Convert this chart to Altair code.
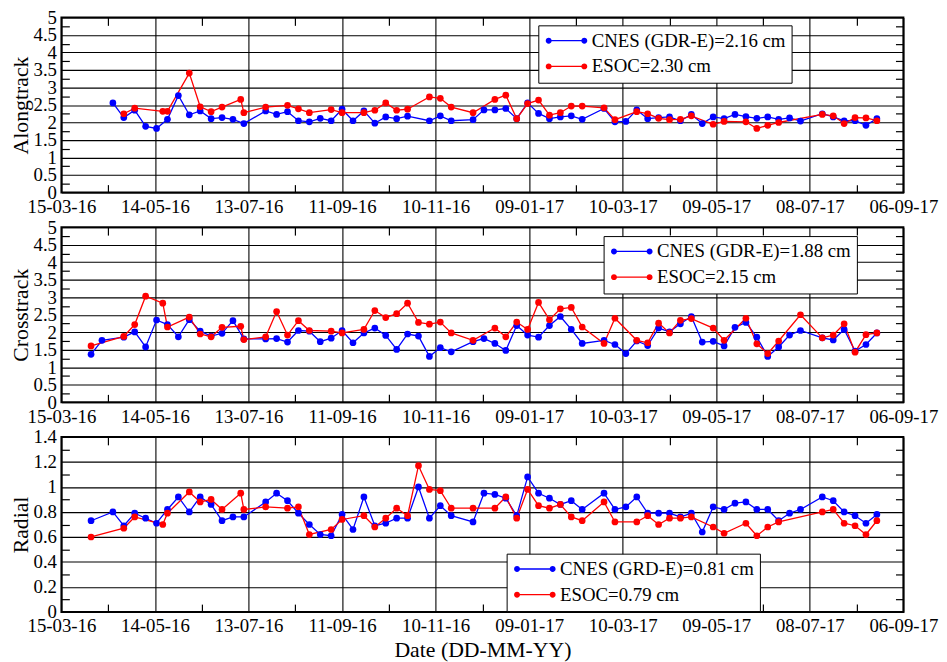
import altair as alt
import pandas as pd

FONT = "Liberation Serif"
BLUE = "#0000ff"
RED = "#ff0000"

# ---------------- axis ticks ----------------
x_major = ["2016-03-15", "2016-05-14", "2016-07-13", "2016-09-11", "2016-11-10",
           "2017-01-09", "2017-03-10", "2017-05-09", "2017-07-08", "2017-09-06"]
x_minor = ["2016-04-14", "2016-06-13", "2016-08-12", "2016-10-11", "2016-12-10",
           "2017-02-08", "2017-04-09", "2017-06-08", "2017-08-07"]
y_major_ac = [0, 0.5, 1, 1.5, 2, 2.5, 3, 3.5, 4, 4.5, 5]
y_minor_ac = [0.25, 0.75, 1.25, 1.75, 2.25, 2.75, 3.25, 3.75, 4.25, 4.75]
y_major_r = [0, 0.2, 0.4, 0.6, 0.8, 1.0, 1.2, 1.4]
y_minor_r = [0.1, 0.3, 0.5, 0.7, 0.9, 1.1, 1.3]

# ---------------- Alongtrack ----------------
along_cnes_label = "CNES (GDR-E)=2.16 cm"
along_esoc_label = "ESOC=2.30 cm"
along_cnes_dates = ["2016-04-17", "2016-04-24", "2016-05-01", "2016-05-08", "2016-05-15", "2016-05-22",
                    "2016-05-29", "2016-06-05", "2016-06-12", "2016-06-19", "2016-06-26", "2016-07-03",
                    "2016-07-10", "2016-07-24", "2016-07-31", "2016-08-07", "2016-08-14", "2016-08-21",
                    "2016-08-28", "2016-09-04", "2016-09-11", "2016-09-18", "2016-09-25", "2016-10-02",
                    "2016-10-09", "2016-10-16", "2016-10-23", "2016-11-06", "2016-11-13", "2016-11-20",
                    "2016-12-04", "2016-12-11", "2016-12-18", "2016-12-25", "2017-01-01", "2017-01-08",
                    "2017-01-15", "2017-01-22", "2017-01-29", "2017-02-05", "2017-02-12", "2017-02-26",
                    "2017-03-05", "2017-03-12", "2017-03-19", "2017-03-26", "2017-04-02", "2017-04-09",
                    "2017-04-16", "2017-04-23", "2017-04-30", "2017-05-07", "2017-05-14", "2017-05-21",
                    "2017-05-28", "2017-06-04", "2017-06-11", "2017-06-18", "2017-06-25", "2017-07-02",
                    "2017-07-16", "2017-07-23", "2017-07-30", "2017-08-06", "2017-08-13", "2017-08-20"]
along_cnes = [2.56, 2.14, 2.35, 1.89, 1.83, 2.09, 2.77, 2.22, 2.33, 2.11, 2.14, 2.09, 1.97,
              2.33, 2.23, 2.31, 2.05, 2.02, 2.12, 2.05, 2.38, 2.05, 2.33, 1.98, 2.16, 2.11, 2.18,
              2.05, 2.19, 2.05, 2.08, 2.36, 2.36, 2.40, 2.11, 2.56, 2.26, 2.11, 2.16, 2.19, 2.09,
              2.40, 2.02, 2.03, 2.36, 2.11, 2.14, 2.16, 2.05, 2.23, 1.97, 2.16, 2.11, 2.23, 2.17,
              2.12, 2.16, 2.09, 2.13, 2.04, 2.25, 2.16, 2.05, 2.05, 1.92, 2.11]
along_esoc_dates = ["2016-04-24", "2016-05-01", "2016-05-19", "2016-05-22", "2016-06-05", "2016-06-12",
                    "2016-06-19", "2016-06-26", "2016-07-08", "2016-07-10", "2016-07-24", "2016-08-07",
                    "2016-08-14", "2016-08-21", "2016-09-04", "2016-09-11", "2016-09-25", "2016-10-02",
                    "2016-10-09", "2016-10-16", "2016-10-23", "2016-11-06", "2016-11-13", "2016-11-20",
                    "2016-12-04", "2016-12-18", "2016-12-25", "2017-01-01", "2017-01-08", "2017-01-15",
                    "2017-01-22", "2017-01-29", "2017-02-05", "2017-02-12", "2017-02-26", "2017-03-05",
                    "2017-03-19", "2017-03-26", "2017-04-02", "2017-04-09", "2017-04-16", "2017-04-23",
                    "2017-05-07", "2017-05-14", "2017-05-28", "2017-06-04", "2017-06-11", "2017-06-18",
                    "2017-07-16", "2017-07-23", "2017-07-30", "2017-08-06", "2017-08-13", "2017-08-20"]
along_esoc = [2.25, 2.41, 2.32, 2.32, 3.41, 2.45, 2.31, 2.44, 2.66, 2.28, 2.44, 2.49, 2.39, 2.28,
              2.37, 2.28, 2.28, 2.35, 2.56, 2.35, 2.38, 2.73, 2.69, 2.44, 2.28, 2.66, 2.78, 2.11,
              2.54, 2.64, 2.21, 2.28, 2.47, 2.47, 2.42, 2.08, 2.31, 2.25, 2.12, 2.08, 2.09, 2.19,
              1.95, 2.03, 2.02, 1.83, 1.92, 2.00, 2.23, 2.19, 1.97, 2.14, 2.13, 2.05]

# ---------------- Crosstrack ----------------
cross_cnes_label = "CNES (GDR-E)=1.88 cm"
cross_esoc_label = "ESOC=2.15 cm"
cross_cnes_dates = ["2016-04-03", "2016-04-10", "2016-04-24", "2016-05-01", "2016-05-08", "2016-05-15",
                    "2016-05-22", "2016-05-29", "2016-06-05", "2016-06-12", "2016-06-19", "2016-06-26",
                    "2016-07-03", "2016-07-10", "2016-07-24", "2016-07-31", "2016-08-07", "2016-08-14",
                    "2016-08-21", "2016-08-28", "2016-09-04", "2016-09-11", "2016-09-18", "2016-09-25",
                    "2016-10-02", "2016-10-09", "2016-10-16", "2016-10-23", "2016-10-30", "2016-11-06",
                    "2016-11-13", "2016-11-20", "2016-12-04", "2016-12-11", "2016-12-18", "2016-12-25",
                    "2017-01-01", "2017-01-08", "2017-01-15", "2017-01-22", "2017-01-29", "2017-02-05",
                    "2017-02-12", "2017-02-26", "2017-03-05", "2017-03-12", "2017-03-19", "2017-03-26",
                    "2017-04-02", "2017-04-09", "2017-04-16", "2017-04-23", "2017-04-30", "2017-05-07",
                    "2017-05-14", "2017-05-21", "2017-05-28", "2017-06-04", "2017-06-11", "2017-06-18",
                    "2017-06-25", "2017-07-02", "2017-07-16", "2017-07-23", "2017-07-30", "2017-08-06",
                    "2017-08-13", "2017-08-20"]
cross_cnes = [1.37, 1.77, 1.86, 2.01, 1.58, 2.35, 2.22, 1.87, 2.36, 2.03, 1.89, 1.97, 2.33, 1.81,
              1.81, 1.82, 1.72, 2.05, 2.03, 1.73, 1.83, 2.05, 1.70, 1.98, 2.12, 1.91, 1.51, 1.95,
              1.89, 1.31, 1.56, 1.44, 1.73, 1.82, 1.68, 1.48, 2.19, 1.92, 1.86, 2.19, 2.45, 2.08,
              1.68, 1.77, 1.65, 1.39, 1.75, 1.62, 2.12, 2.01, 2.24, 2.45, 1.72, 1.74, 1.61, 2.14,
              2.28, 1.86, 1.31, 1.58, 1.92, 2.05, 1.84, 1.78, 2.08, 1.46, 1.65, 1.98]
cross_esoc_dates = ["2016-04-03", "2016-04-24", "2016-05-01", "2016-05-08", "2016-05-19", "2016-05-22",
                    "2016-06-05", "2016-06-12", "2016-06-19", "2016-06-26", "2016-07-08", "2016-07-10",
                    "2016-07-24", "2016-07-31", "2016-08-07", "2016-08-14", "2016-08-21", "2016-09-04",
                    "2016-09-11", "2016-09-25", "2016-10-02", "2016-10-09", "2016-10-16", "2016-10-23",
                    "2016-10-30", "2016-11-06", "2016-11-13", "2016-11-20", "2016-12-04", "2016-12-18",
                    "2016-12-25", "2017-01-01", "2017-01-08", "2017-01-15", "2017-01-22", "2017-01-29",
                    "2017-02-05", "2017-02-12", "2017-02-26", "2017-03-05", "2017-03-19", "2017-03-26",
                    "2017-04-02", "2017-04-09", "2017-04-16", "2017-04-23", "2017-05-07", "2017-05-14",
                    "2017-05-28", "2017-06-04", "2017-06-11", "2017-06-18", "2017-07-02", "2017-07-16",
                    "2017-07-23", "2017-07-30", "2017-08-06", "2017-08-13", "2017-08-20"]
cross_esoc = [1.61, 1.88, 2.22, 3.03, 2.83, 2.15, 2.43, 1.95, 1.87, 2.14, 2.17, 1.79, 1.87, 2.59,
              1.92, 2.33, 2.05, 2.03, 1.98, 2.08, 2.62, 2.42, 2.53, 2.83, 2.28, 2.23, 2.29, 1.98,
              1.77, 2.12, 1.87, 2.29, 2.08, 2.85, 2.36, 2.67, 2.71, 2.15, 1.68, 2.40, 1.77, 1.70,
              2.26, 1.98, 2.34, 2.39, 2.12, 1.77, 2.40, 1.67, 1.39, 1.75, 2.50, 1.84, 1.92, 2.24,
              1.43, 1.93, 1.98]

# ---------------- Radial ----------------
rad_cnes_label = "CNES (GRD-E)=0.81 cm"
rad_esoc_label = "ESOC=0.79 cm"
rad_cnes_dates = ["2016-04-03", "2016-04-17", "2016-04-24", "2016-05-01", "2016-05-08", "2016-05-15",
                  "2016-05-22", "2016-05-29", "2016-06-05", "2016-06-12", "2016-06-19", "2016-06-26",
                  "2016-07-03", "2016-07-10", "2016-07-24", "2016-07-31", "2016-08-07", "2016-08-14",
                  "2016-08-21", "2016-08-28", "2016-09-04", "2016-09-11", "2016-09-18", "2016-09-25",
                  "2016-10-02", "2016-10-09", "2016-10-16", "2016-10-23", "2016-10-30", "2016-11-06",
                  "2016-11-13", "2016-11-20", "2016-12-04", "2016-12-11", "2016-12-18", "2016-12-25",
                  "2017-01-01", "2017-01-08", "2017-01-15", "2017-01-22", "2017-01-29", "2017-02-05",
                  "2017-02-12", "2017-02-26", "2017-03-05", "2017-03-12", "2017-03-19", "2017-03-26",
                  "2017-04-02", "2017-04-09", "2017-04-16", "2017-04-23", "2017-04-30", "2017-05-07",
                  "2017-05-14", "2017-05-21", "2017-05-28", "2017-06-04", "2017-06-11", "2017-06-18",
                  "2017-06-25", "2017-07-02", "2017-07-16", "2017-07-23", "2017-07-30", "2017-08-06",
                  "2017-08-13", "2017-08-20"]
rad_cnes = [0.73, 0.80, 0.69, 0.79, 0.75, 0.71, 0.82, 0.92, 0.80, 0.92, 0.86, 0.73, 0.76, 0.76,
            0.88, 0.95, 0.89, 0.79, 0.70, 0.62, 0.61, 0.78, 0.66, 0.92, 0.69, 0.71, 0.75, 0.75,
            1.00, 0.75, 0.85, 0.77, 0.72, 0.95, 0.94, 0.91, 0.77, 1.08, 0.95, 0.91, 0.86, 0.89,
            0.82, 0.95, 0.82, 0.84, 0.92, 0.79, 0.79, 0.79, 0.76, 0.79, 0.64, 0.84, 0.82, 0.87,
            0.88, 0.82, 0.82, 0.73, 0.79, 0.82, 0.92, 0.89, 0.80, 0.77, 0.71, 0.78]
rad_esoc_dates = ["2016-04-03", "2016-04-24", "2016-05-01", "2016-05-19", "2016-05-22", "2016-06-05",
                  "2016-06-12", "2016-06-19", "2016-06-26", "2016-07-08", "2016-07-10", "2016-07-24",
                  "2016-08-07", "2016-08-14", "2016-08-21", "2016-09-04", "2016-09-11", "2016-09-25",
                  "2016-10-02", "2016-10-09", "2016-10-16", "2016-10-23", "2016-10-30", "2016-11-06",
                  "2016-11-13", "2016-11-20", "2016-12-04", "2016-12-18", "2016-12-25", "2017-01-01",
                  "2017-01-08", "2017-01-15", "2017-01-22", "2017-01-29", "2017-02-05", "2017-02-12",
                  "2017-02-26", "2017-03-05", "2017-03-19", "2017-03-26", "2017-04-02", "2017-04-09",
                  "2017-04-16", "2017-04-23", "2017-05-07", "2017-05-14", "2017-05-28", "2017-06-04",
                  "2017-06-11", "2017-06-18", "2017-07-16", "2017-07-23", "2017-07-30", "2017-08-06",
                  "2017-08-13", "2017-08-20"]
rad_esoc = [0.60, 0.67, 0.76, 0.70, 0.79, 0.96, 0.88, 0.90, 0.82, 0.95, 0.82, 0.84, 0.83, 0.84,
            0.62, 0.66, 0.74, 0.77, 0.68, 0.75, 0.83, 0.77, 1.17, 0.98, 0.97, 0.83, 0.83, 0.83,
            0.92, 0.75, 0.98, 0.85, 0.83, 0.86, 0.76, 0.73, 0.88, 0.72, 0.72, 0.77, 0.70, 0.75,
            0.75, 0.76, 0.68, 0.63, 0.71, 0.61, 0.68, 0.72, 0.80, 0.82, 0.71, 0.69, 0.62, 0.73]

# legend symbol: dot - line - dot (filled path; symbol size 256 -> 8 px per path unit)
LEGEND_SYMBOL = ("M-2.625,0A0.375,0.375,0,1,1,-1.875,0A0.375,0.375,0,1,1,-2.625,0Z "
                 "M1.875,0A0.375,0.375,0,1,1,2.625,0A0.375,0.375,0,1,1,1.875,0Z "
                 "M-2.25,-0.08L2.25,-0.08L2.25,0.08L-2.25,0.08Z")

W, H = 851, 177
TICK = 8
TXT = dict(labelFont=FONT, labelFontSize=19, labelColor="black",
           titleFont=FONT, titleFontSize=22, titleFontWeight="normal", titleColor="black")


def dt(s):
    y, m, d = (int(p) for p in s.split("-"))
    return alt.DateTime(year=y, month=m, date=d, utc=True)


def frame(dates_a, vals_a, lab_a, dates_b, vals_b, lab_b):
    a = pd.DataFrame({"date": dates_a, "value": vals_a, "series": lab_a})
    b = pd.DataFrame({"date": dates_b, "value": vals_b, "series": lab_b})
    return pd.concat([a, b], ignore_index=True)


def panel(df, lab_a, lab_b, ytitle, ymax, ymajor, yminor, lx, ly, xtitle=None):
    xscale = alt.Scale(type="utc", domain=[dt(x_major[0]), dt(x_major[-1])])
    yscale = alt.Scale(domain=[0, ymax], nice=False, zero=True)
    cscale = alt.Scale(domain=[lab_a, lab_b], range=[BLUE, RED])

    x_main_kw = dict(values=[dt(v) for v in x_major],
                     labelExpr="utcFormat(datum.value, '%d-%m-%y')",
                     grid=True, ticks=False, domain=False, labelPadding=5, labelFlush=False,
                     labelOverlap=False, orient="bottom", **TXT)
    if xtitle:
        x_main = alt.Axis(title=xtitle, titlePadding=4, **x_main_kw)
    else:
        x_main = alt.Axis(title=None, **x_main_kw)
    y_main = alt.Axis(values=ymajor, format=".1~f", grid=True, ticks=False, domain=False,
                      labelPadding=5, labelFlush=False, labelOverlap=False, title=ytitle,
                      titlePadding=1, orient="left", minExtent=10, **TXT)
    minor_kw = dict(labels=False, grid=False, domain=False, ticks=True, tickSize=TICK,
                    offset=-TICK, title=None, minExtent=0)
    x_min_b = alt.Axis(values=[dt(v) for v in x_minor], orient="bottom", **minor_kw)
    x_min_t = alt.Axis(values=[dt(v) for v in x_minor], orient="top", **minor_kw)
    y_min_l = alt.Axis(values=yminor, orient="left", **minor_kw)
    y_min_r = alt.Axis(values=yminor, orient="right", **minor_kw)

    legend = alt.Legend(orient="none", legendX=lx, legendY=ly, title=None, direction="vertical",
                        symbolType=LEGEND_SYMBOL, symbolSize=256, symbolStrokeWidth=0,
                        symbolOffset=13, symbolOpacity=1, labelFont=FONT, labelFontSize=19,
                        labelColor="black", labelOffset=16, labelLimit=400, padding=6,
                        rowPadding=6, strokeColor="black", fillColor="white", cornerRadius=0)

    line = alt.Chart().mark_line(strokeWidth=1.3).encode(
        x=alt.X("date:T", scale=xscale, axis=x_main),
        y=alt.Y("value:Q", scale=yscale, axis=y_main),
        color=alt.Color("series:N", scale=cscale, legend=legend),
    )
    pts = alt.Chart().mark_circle(size=46, opacity=1).encode(
        x=alt.X("date:T", scale=xscale, axis=x_min_b),
        y=alt.Y("value:Q", scale=yscale, axis=y_min_l),
        color=alt.Color("series:N", scale=cscale, legend=legend),
    )
    ghost = alt.Chart().mark_point(opacity=0).encode(
        x=alt.X("date:T", scale=xscale, axis=x_min_t),
        y=alt.Y("value:Q", scale=yscale, axis=y_min_r),
    )
    return (alt.layer(line, pts, ghost, data=df)
            .resolve_axis(x="independent", y="independent")
            .properties(width=W, height=H))


p1 = panel(frame(along_cnes_dates, along_cnes, along_cnes_label,
                 along_esoc_dates, along_esoc, along_esoc_label),
           along_cnes_label, along_esoc_label, "Alongtrack", 5, y_major_ac, y_minor_ac, 482, 8)
p2 = panel(frame(cross_cnes_dates, cross_cnes, cross_cnes_label,
                 cross_esoc_dates, cross_esoc, cross_esoc_label),
           cross_cnes_label, cross_esoc_label, "Crosstrack", 5, y_major_ac, y_minor_ac, 548, 9)
p3 = panel(frame(rad_cnes_dates, rad_cnes, rad_cnes_label,
                 rad_esoc_dates, rad_esoc, rad_esoc_label),
           rad_cnes_label, rad_esoc_label, "Radial", 1.4, y_major_r, y_minor_r, 450, 118,
           xtitle="Date (DD-MM-YY)")

chart = (alt.vconcat(p1, p2, p3, spacing=0)
         .resolve_scale(x="independent", y="independent", color="independent")
         .resolve_legend(color="independent")
         .properties(padding={"left": 0, "top": -4, "right": 0, "bottom": 0})
         .configure_view(stroke="black", strokeWidth=2)
         .configure_axis(tickColor="black", tickWidth=1.2,
                         gridColor="black", gridOpacity=1, gridWidth=1.1))

chart.save("out.html", embed_options={"renderer": "svg", "actions": False})
